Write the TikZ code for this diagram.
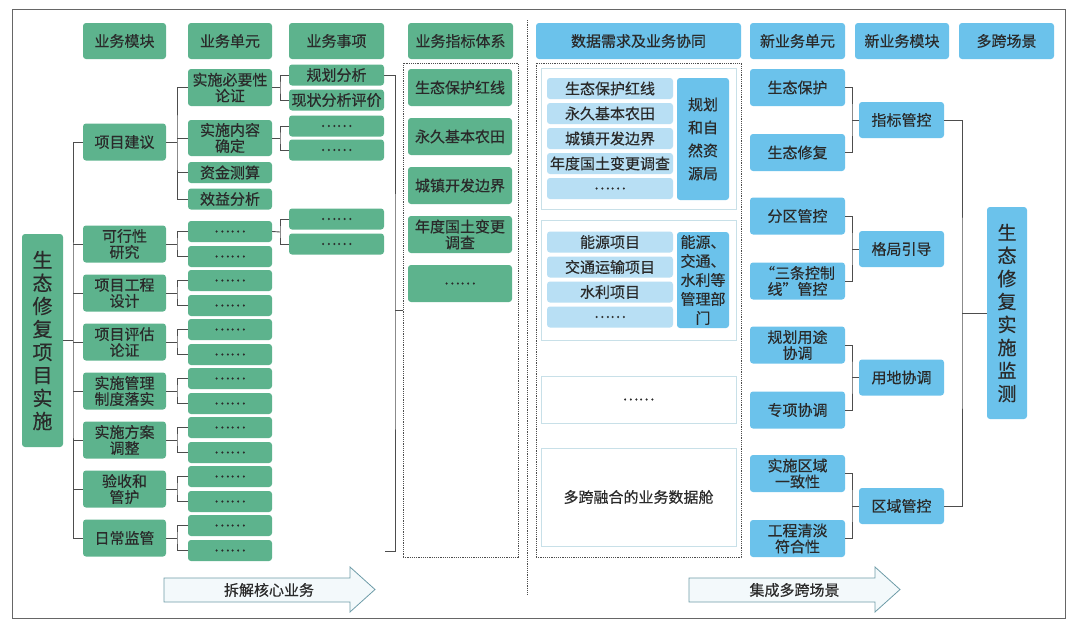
\documentclass[tikz,border=0pt]{standalone}
\usepackage{fontspec}
\setmainfont{Noto Sans CJK SC}[FakeBold=0.4]
\usetikzlibrary{positioning}
\usepackage{xcolor}
\definecolor{boxgreen}{HTML}{5DB38D}
\definecolor{boxblue}{HTML}{6BC2EB}
\definecolor{itemblue}{HTML}{B8DFF4}
\definecolor{txtgray}{HTML}{2A2A2A}
\definecolor{linegray}{HTML}{4D4D4D}
\definecolor{panelline}{HTML}{C8E0E8}
\definecolor{arrowline}{HTML}{6E9CA8}
\definecolor{arrowfill}{HTML}{F3F9FB}

\begin{document}
\begin{tikzpicture}[x=1pt, y=-1pt,
  every node/.style={text=txtgray, font=\fontsize{15}{16}\selectfont, inner sep=0pt, align=center},
  gbox/.style={fill=boxgreen, rounded corners=3pt},
  bbox/.style={fill=boxblue, rounded corners=3pt},
  lbox/.style={fill=itemblue, rounded corners=3pt, minimum width=126, minimum height=21},
  modbox/.style={gbox, minimum width=83, minimum height=37},
  unitbox/.style={gbox, minimum width=84, minimum height=21},
  itembox/.style={gbox, minimum width=95, minimum height=21},
  idxbox/.style={gbox, minimum width=104, minimum height=37},
  nubox/.style={bbox, minimum width=95, minimum height=37},
  nmbox/.style={bbox, minimum width=85, minimum height=36},
  panel/.style={draw=panelline, fill=white, line width=0.9pt, minimum width=195},
  link/.style={draw=linegray, line width=0.9pt},
  dotbox/.style={draw=linegray, dash pattern=on 1.2pt off 1pt, line width=0.7pt},
  bigarrow/.style={draw=arrowline, fill=arrowfill, line width=0.8pt}]

  \useasboundingbox (0,0) rectangle (1080,629);

  % outer frame
  \draw[draw=gray!80!black, line width=1pt] (12,9) rectangle (1065,618);

  % headers
  \node[gbox, minimum width=83, minimum height=36] (hmod) at (124.5,41) {业务模块};
  \node[gbox, minimum width=84, minimum height=36] (hunit) at (230,41) {业务单元};
  \node[gbox, minimum width=95, minimum height=36] (hitem) at (336.5,41) {业务事项};
  \node[gbox, minimum width=105, minimum height=36] (hidx) at (460.5,41) {业务指标体系};
  \node[bbox, minimum width=205, minimum height=36] (hdata) at (638.5,41) {数据需求及业务协同};
  \node[bbox, minimum width=95, minimum height=36] (hnunit) at (797.5,41) {新业务单元};
  \node[bbox, minimum width=94, minimum height=36] (hnmod) at (902,41) {新业务模块};
  \node[bbox, minimum width=95, minimum height=36] (hscene) at (1006.5,41) {多跨场景};

  % root and modules
  \node[gbox, minimum width=41, minimum height=213, font=\fontsize{20}{23}\selectfont]
    (root) at (42.5,340.5) {生\\态\\修\\复\\项\\目\\实\\施};
  \node[modbox] (m1) at (124.5,142) {项目建议};
  \node[unitbox, minimum height=37] (u11) at (230,87.5) {实施必要性\\论证};
  \node[unitbox, minimum height=36] (u12) at (230,138) {实施内容\\确定};
  \node[unitbox] (u13) at (230,172.5) {资金测算};
  \node[unitbox] (u14) at (230,199) {效益分析};
  \draw[link] (m1.east) -- (177,142) coordinate (j1);
  \draw[link] (u11.west) -| (j1) |- (u14.west);
  \draw[link] (u12.west) -- (u12.west -| j1);
  \draw[link] (u13.west) -- (u13.west -| j1);

  \foreach \i/\y/\txt in {2/244/{可行性\\研究}, 3/293/{项目工程\\设计}, 4/342/{项目评估\\论证},
      5/391/{实施管理\\制度落实}, 6/440/{实施方案\\调整}, 7/489/{验收和\\管护}, 8/538/日常监管} {
    \node[modbox] (m\i) at (124.5,\y) {\txt};
    \node[unitbox] (ua\i) at (230,\y-12.5) {……};
    \node[unitbox] (ub\i) at (230,\y+12.5) {……};
    \draw[link] (m\i.east) -- (177,\y) coordinate (j\i);
    \draw[link] (ua\i.west) -| (j\i) |- (ub\i.west);
  }

  % root to modules
  \coordinate (jr) at (73,340.5);
  \draw[link] (root.east) -- (jr);
  \draw[link] (m1.west) -| (jr) |- (m8.west);
  \foreach \i in {2,...,7}
    \draw[link] (m\i.west) -- (m\i.west -| jr);

  % items
  \node[itembox] (i1) at (336.5,75) {规划分析};
  \node[itembox] (i2) at (336.5,100) {现状分析评价};
  \node[itembox] (i3) at (336.5,126) {……};
  \node[itembox] (i4) at (336.5,150) {……};
  \node[itembox] (i5) at (336.5,219) {……};
  \node[itembox] (i6) at (336.5,244) {……};
  \draw[link] (u11.east) -- (280,87.5) coordinate (k1);
  \draw[link] (i1.west) -| (k1) |- (i2.west);
  \draw[link] (u12.east) -- (280,138) coordinate (k2);
  \draw[link] (i3.west) -| (k2) |- (i4.west);
  \draw[link] (ua2.east) -- (280,232) coordinate (k3);
  \draw[link] (i5.west) -| (k3) |- (i6.west);

  % index system
  \node[dotbox, minimum width=115, minimum height=494] (idx) at (460.5,310) {};
  \node[idxbox] (x1) at (460,87.5) {生态保护红线};
  \node[idxbox] (x2) at (460,136.5) {永久基本农田};
  \node[idxbox] (x3) at (460,185.5) {城镇开发边界};
  \node[idxbox] (x4) at (460,234.5) {年度国土变更\\调查};
  \node[idxbox] (x5) at (460,283.5) {……};
  \coordinate (jb) at (395,310);
  \coordinate (bend) at (385,551);
  \draw[link] (i1.east) -| (jb) |- (bend);
  \draw[link] (jb) -- (idx.west);

  % separator
  \draw[dotbox] (527,20) -- (527,595);

  % data and collaboration
  \node[dotbox, minimum width=205, minimum height=494] (data) at (638.5,310) {};
  \node[panel, minimum height=141] (p1) at (638.5,138.5) {};
  \node[panel, minimum height=120] (p2) at (638.5,280) {};
  \node[panel, minimum height=47] (p3) at (638.5,399.5) {……};
  \node[panel, minimum height=98] (p4) at (638.5,497) {多跨融合的业务数据舱};
  \foreach \txt [count=\k from 0] in {生态保护红线, 永久基本农田, 城镇开发边界, 年度国土变更调查, ……}
    \node[lbox] (d1\k) at (610,88.5+25*\k) {\txt};
  \node[bbox, minimum width=52, minimum height=122, font=\fontsize{15}{23}\selectfont]
    (dept1) at (703,139) {规划\\和自\\然资\\源局};
  \foreach \txt [count=\k from 0] in {能源项目, 交通运输项目, 水利项目, ……}
    \node[lbox] (d2\k) at (610,242+25*\k) {\txt};
  \node[bbox, minimum width=52, minimum height=96, font=\fontsize{15}{19}\selectfont]
    (dept2) at (703,280) {能源、\\交通、\\水利等\\管理部\\门};

  % new units and modules
  \node[nubox] (nu1) at (797.5,87.5) {生态保护};
  \node[nubox] (nu2) at (797.5,152.5) {生态修复};
  \node[nubox] (nu3) at (797.5,216) {分区管控};
  \node[nubox] (nu4) at (797.5,281) {“三条控制\\线”管控};
  \node[nubox] (nu5) at (797.5,345) {规划用途\\协调};
  \node[nubox] (nu6) at (797.5,410) {专项协调};
  \node[nubox] (nu7) at (797.5,473.5) {实施区域\\一致性};
  \node[nubox] (nu8) at (797.5,538.5) {工程清淡\\符合性};
  \foreach \k/\y/\txt in {1/120/指标管控, 2/249/格局引导, 3/377.5/用地协调, 4/506/区域管控} {
    \node[nmbox] (nm\k) at (901.5,\y) {\txt};
    \pgfmathtruncatemacro{\a}{2*\k-1}
    \pgfmathtruncatemacro{\b}{2*\k}
    \coordinate (jn\k) at (852,\y);
    \draw[link] (nu\a.east) -| (jn\k) |- (nu\b.east);
    \draw[link] (jn\k) -- (nm\k.west);
  }

  % scene
  \node[bbox, minimum width=40, minimum height=212, font=\fontsize{19}{23}\selectfont]
    (scene) at (1007,313) {生\\态\\修\\复\\实\\施\\监\\测};
  \coordinate (js) at (962,313);
  \draw[link] (nm1.east) -| (js) |- (nm4.east);
  \draw[link] (js) -- (scene.west);

  % bottom arrows
  \draw[bigarrow] (164,578) -- (350,578) -- (350,567) -- (375,589.5) -- (350,612) -- (350,602) -- (164,602) -- cycle;
  \node (split) at (269,590) {拆解核心业务};
  \draw[bigarrow] (689,578) -- (875,578) -- (875,567) -- (900,589.5) -- (875,612) -- (875,602) -- (689,602) -- cycle;
  \node (merge) at (794.5,590) {集成多跨场景};
\end{tikzpicture}
\end{document}
